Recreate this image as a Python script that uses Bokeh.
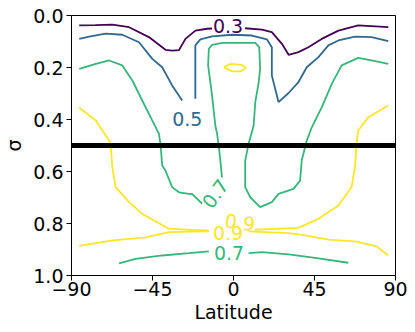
from bokeh.plotting import figure
from bokeh.models import Range1d, FixedTicker, Span, ColumnDataSource
from bokeh.core.properties import value
from bokeh.embed import file_html
from bokeh.resources import INLINE
import math

# ---------------- data ----------------
x_ticks = [-90, -45, 0, 45, 90]
x_tick_labels = ["\u221290", "\u221245", "0", "45", "90"]
y_ticks = [0.0, 0.2, 0.4, 0.6, 0.8, 1.0]
y_tick_labels = ["0.0", "0.2", "0.4", "0.6", "0.8", "1.0"]
split_sigma = 0.5

levels = [0.3, 0.5, 0.7, 0.9]
level_colors = ["#440154", "#31688e", "#35b779", "#fde725"]

# level 0.3
c03_a_lat = [-85.7, -76.7, -67.3, -58.0, -47.0, -37.8, -34.1, -30.3, -26.7, -21.2, -14.7, -11.9]
c03_a_sig = [0.038, 0.037, 0.035, 0.045, 0.083, 0.132, 0.135, 0.133, 0.090, 0.058, 0.051, 0.050]
c03_b_lat = [6.4, 15.8, 21.3, 26.9, 30.6, 36.1, 41.6, 49.0, 58.3, 69.3, 86.0]
c03_b_sig = [0.049, 0.054, 0.064, 0.109, 0.151, 0.141, 0.122, 0.090, 0.058, 0.038, 0.045]

# level 0.5
c05_a_lat = [-85.7, -80.2, -71.0, -61.8, -52.5, -45.1, -39.6, -34.1, -28.5]
c05_a_sig = [0.090, 0.081, 0.070, 0.074, 0.103, 0.167, 0.199, 0.269, 0.327]
c05_b_lat = [-21.2, -21.2, -18.4, -11.9, -0.8, 10.2, 18.6, 21.3, 21.3, 25.0, 30.6, 36.1,
             40.7, 47.2, 52.7, 58.3, 67.5, 76.7, 86.0]
c05_b_sig = [0.320, 0.115, 0.092, 0.080, 0.074, 0.077, 0.092, 0.122, 0.231, 0.333, 0.298, 0.256,
             0.199, 0.160, 0.115, 0.096, 0.081, 0.083, 0.099]

# level 0.7 (upper / main)
c07_a_lat = [-85.7, -76.5, -69.1, -61.8, -56.2, -50.7, -45.1, -41.4, -40.5, -39.6, -37.8,
             -34.1, -30.3, -24.8, -23.0, -17.4]
c07_a_sig = [0.205, 0.186, 0.173, 0.192, 0.250, 0.327, 0.404, 0.455, 0.500, 0.577, 0.596,
             0.660, 0.680, 0.686, 0.686, 0.724]
c07_b_lat = [-6.4, -7.3, -8.2, -9.1, -10.1, -11.9, -14.1, -13.7, -11.9, -6.4, 12.1, 14.3, 14.8,
             14.0, 12.1, 11.2, 8.4, 6.5, 6.5, 9.3, 14.8, 21.3, 25.0, 33.3, 37.0, 37.9, 40.7,
             43.5, 49.0, 54.6, 60.1, 69.3, 76.7, 86.0]
c07_b_sig = [0.623, 0.558, 0.500, 0.455, 0.423, 0.308, 0.192, 0.128, 0.113, 0.105, 0.105, 0.122,
             0.205, 0.257, 0.333, 0.423, 0.493, 0.558, 0.660, 0.699, 0.737, 0.718, 0.686, 0.667,
             0.635, 0.558, 0.481, 0.430, 0.353, 0.263, 0.192, 0.163, 0.173, 0.186]
# level 0.7 (near surface)
c07_c_lat = [-63.6, -54.4, -39.6, -24.8, -13.7]
c07_c_sig = [0.953, 0.936, 0.923, 0.914, 0.907]
c07_d_lat = [8.4, 15.8, 30.6, 45.3, 63.8]
c07_d_sig = [0.914, 0.910, 0.919, 0.932, 0.951]

# level 0.9 (hanging)
c09_a_lat = [-85.7, -76.5, -69.1, -68.2, -67.3, -65.5, -58.0, -50.7, -35.9, -23.0, -13.7]
c09_a_sig = [0.355, 0.404, 0.481, 0.500, 0.583, 0.660, 0.718, 0.763, 0.820, 0.825, 0.827]
c09_b_lat = [11.9, 36.1, 47.2, 58.3, 65.6, 67.5, 68.4, 69.3, 74.9, 86.0]
c09_b_sig = [0.824, 0.817, 0.782, 0.731, 0.660, 0.583, 0.492, 0.442, 0.391, 0.346]
# level 0.9 (near surface)
c09_c_lat = [-85.7, -67.3, -48.8, -35.9, -23.0, -13.7]
c09_c_sig = [0.886, 0.865, 0.853, 0.833, 0.831, 0.830]
c09_d_lat = [8.4, 30.6, 39.8, 52.7, 67.5, 79.5, 86.0]
c09_d_sig = [0.830, 0.837, 0.846, 0.862, 0.869, 0.888, 0.923]
# level 0.9 (small closed loop, upper troposphere)
c09_e_lat = [-5.4, -1.8, 4.7, 6.9, 3.8, -0.8, -5.4]
c09_e_sig = [0.199, 0.186, 0.190, 0.201, 0.215, 0.215, 0.199]

# inline contour labels
lab_lat = [-3.0, -25.7, -10.2, 3.6, -3.0, -2.5]
lab_sig = [0.042, 0.398, 0.685, 0.796, 0.835, 0.912]
lab_text = ["0.3", "0.5", "0.7", "0.9", "0.9", "0.7"]
lab_level = [0.3, 0.5, 0.7, 0.9, 0.9, 0.7]
lab_angle_deg = [0, 0, 54, -8, 0, 0]

segments = [
    (0.3, c03_a_lat, c03_a_sig), (0.3, c03_b_lat, c03_b_sig),
    (0.5, c05_a_lat, c05_a_sig), (0.5, c05_b_lat, c05_b_sig),
    (0.7, c07_a_lat, c07_a_sig), (0.7, c07_b_lat, c07_b_sig),
    (0.7, c07_c_lat, c07_c_sig), (0.7, c07_d_lat, c07_d_sig),
    (0.9, c09_a_lat, c09_a_sig), (0.9, c09_b_lat, c09_b_sig),
    (0.9, c09_c_lat, c09_c_sig), (0.9, c09_d_lat, c09_d_sig),
    (0.9, c09_e_lat, c09_e_sig),
]

# ---------------- figure ----------------
FONT = "DejaVu Sans"
FS = "19px"
p = figure(width=415, height=332, x_range=Range1d(-90, 90), y_range=Range1d(1, 0),
           output_backend="svg", toolbar_location=None,
           min_border_left=69, min_border_right=20, min_border_top=15, min_border_bottom=57)
p.grid.visible = False
p.outline_line_color = "black"
p.outline_line_width = 1
p.background_fill_color = "white"
p.border_fill_color = "white"

color_of = dict(zip(levels, level_colors))
xs = [s[1] for s in segments]
ys = [s[2] for s in segments]
cols = [color_of[s[0]] for s in segments]
p.multi_line(xs=xs, ys=ys, line_color=cols, line_width=1.8)

p.add_layout(Span(location=split_sigma, dimension="width", line_color="black", line_width=5))

lab_src = ColumnDataSource(dict(x=lab_lat, y=lab_sig, text=lab_text,
                                color=[color_of[l] for l in lab_level],
                                angle=[math.radians(a) for a in lab_angle_deg]))
p.text(x="x", y="y", text="text", source=lab_src, text_color="color", angle="angle",
       text_align="center", text_baseline="middle", text_font=value(FONT),
       text_font_size=FS)

for ax in (p.xaxis[0], p.yaxis[0]):
    ax.axis_line_color = "black"
    ax.major_tick_line_color = "black"
    ax.major_tick_out = 5
    ax.major_tick_in = 0
    ax.minor_tick_line_color = None
    ax.major_label_text_font = FONT
    ax.major_label_text_font_size = FS
    ax.major_label_text_color = "black"
    ax.axis_label_text_font = FONT
    ax.axis_label_text_font_size = FS
    ax.axis_label_text_font_style = "normal"
    ax.axis_label_text_color = "black"

p.xaxis.ticker = FixedTicker(ticks=x_ticks)
p.xaxis.major_label_overrides = dict(zip(x_ticks, x_tick_labels))
p.xaxis.axis_label = "Latitude"
p.xaxis.major_label_standoff = 1
p.xaxis.axis_label_standoff = 2

p.yaxis.ticker = FixedTicker(ticks=y_ticks)
p.yaxis.major_label_overrides = dict(zip(y_ticks, y_tick_labels))
p.yaxis.axis_label = "\u03c3"
p.yaxis.major_label_standoff = 3
p.yaxis.axis_label_standoff = 5

open("out.html", "w").write(file_html(p, INLINE))
